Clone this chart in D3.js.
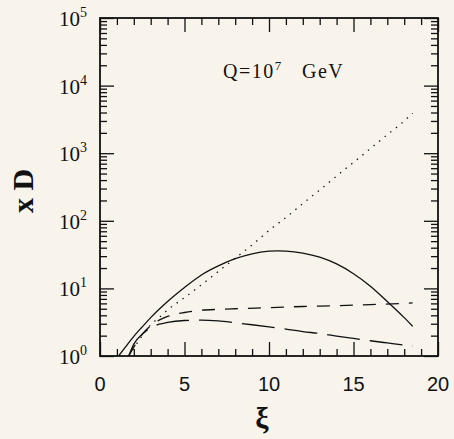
<!DOCTYPE html>
<html>
<head>
<meta charset="utf-8">
<script src="https://cdn.jsdelivr.net/npm/d3@7"></script>
<style>
  html, body { margin: 0; padding: 0; background: #f8f4ec; }
  svg { display: block; }
  .serif { font-family: "Liberation Serif", "DejaVu Serif", serif; fill: #111; }
  .sans { font-family: "Liberation Sans", Arial, sans-serif; fill: #111; }
  .axis path { display: none; }
  .axis line { stroke: #111; stroke-width: 1.3; }
</style>
</head>
<body>
<script>
// Fragmentation function xD against xi at Q = 10^7 GeV
var xiTicksMajor = [0, 5, 10, 15, 20]
var decades = [0, 1, 2, 3, 4, 5]

// full result (solid)
var xiSolid = [1.1, 1.5, 2, 2.5, 3, 4, 5, 6, 7, 8, 9, 10, 10.5, 11, 12, 13, 14, 15, 16, 17, 18, 18.5]
var valSolid = [1.0, 1.35, 1.95, 2.7, 3.7, 6.4, 10.3, 15.8, 21.5, 27.5, 32.5, 35.5, 36, 35.7, 33.3, 29, 23, 16.5, 10.8, 6.4, 3.7, 2.75]

// dotted
var xiDotted = [1.7, 2, 2.5, 3, 3.5, 4, 5, 6, 7, 8, 9, 10, 11, 12, 13, 14, 15, 16, 17, 18, 18.5]
var valDotted = [1.0, 1.3, 2.0, 2.9, 3.7, 4.8, 7.3, 11.3, 17.8, 28, 44, 72, 112, 180, 285, 460, 730, 1170, 1880, 3000, 3950]

// short dashes
var xiShort = [1.7, 2, 2.5, 3, 3.5, 4, 5, 6, 7, 8, 10, 12, 14, 16, 18, 18.5]
var valShort = [1.0, 1.35, 2.1, 2.8, 3.4, 3.85, 4.4, 4.75, 4.9, 5.0, 5.2, 5.4, 5.55, 5.75, 6.0, 6.1]

// long dashes
var xiLong = [1.7, 2, 2.5, 3, 3.5, 4, 5, 6, 7, 8, 9, 10, 11, 12, 13, 14, 15, 16, 17, 18, 18.5]
var valLong = [1.0, 1.5, 2.1, 2.6, 2.95, 3.15, 3.35, 3.4, 3.3, 3.1, 2.9, 2.7, 2.5, 2.3, 2.15, 1.97, 1.82, 1.68, 1.56, 1.45, 1.4]

var W = 454, H = 439
var mLeft = 100, mRight = 438, mTop = 18, mBottom = 356

var svg = d3.select("body").append("svg")
  .attr("width", W)
  .attr("height", H)

var x = d3.scaleLinear().domain([0, 20]).range([mLeft, mRight])
var y = d3.scaleLog().domain([1, 1e5]).range([mBottom, mTop])

var minorX = d3.range(0, 21).filter(function (v) { return v % 5 != 0 })
var minorY = []
decades.slice(0, -1).forEach(function (d) {
  for (var k = 2; k <= 9; k++) minorY.push(k * Math.pow(10, d))
})
var majorY = decades.map(function (d) { return Math.pow(10, d) })

// ticks point inward on all four sides
function tickAxis(axis, offset, vals, size) {
  svg.append("g")
    .attr("class", "axis")
    .attr("transform", offset)
    .call(axis.tickValues(vals).tickSize(-size).tickFormat(""))
}
tickAxis(d3.axisBottom(x), "translate(0," + mBottom + ")", xiTicksMajor, 14)
tickAxis(d3.axisBottom(x), "translate(0," + mBottom + ")", minorX, 7)
tickAxis(d3.axisTop(x), "translate(0," + mTop + ")", xiTicksMajor, 14)
tickAxis(d3.axisTop(x), "translate(0," + mTop + ")", minorX, 7)
tickAxis(d3.axisLeft(y), "translate(" + mLeft + ",0)", majorY, 14)
tickAxis(d3.axisLeft(y), "translate(" + mLeft + ",0)", minorY, 7)
tickAxis(d3.axisRight(y), "translate(" + mRight + ",0)", majorY, 14)
tickAxis(d3.axisRight(y), "translate(" + mRight + ",0)", minorY, 7)

svg.append("rect")
  .attr("x", mLeft).attr("y", mTop)
  .attr("width", mRight - mLeft).attr("height", mBottom - mTop)
  .attr("fill", "none")
  .attr("stroke", "#111")
  .attr("stroke-width", 1.8)

// x tick labels
svg.selectAll("text.xlab")
  .data(xiTicksMajor)
  .enter().append("text")
  .attr("class", "xlab sans")
  .attr("x", function (d) { return x(d) })
  .attr("y", mBottom + 35)
  .attr("text-anchor", "middle")
  .style("font-size", "20px")
  .text(function (d) { return d })

// y tick labels, 10 with a raised exponent
var ylab = svg.selectAll("text.ylab")
  .data(decades)
  .enter().append("text")
  .attr("class", "ylab serif")
  .attr("x", mLeft - 13)
  .attr("y", function (d) { return y(Math.pow(10, d)) + 8 })
  .attr("text-anchor", "end")
  .style("font-size", "21px")
ylab.append("tspan").text("10")
ylab.append("tspan")
  .attr("dy", -9)
  .style("font-size", "14px")
  .text(function (d) { return d })

svg.append("text")
  .attr("class", "serif")
  .attr("transform", "translate(33,191) rotate(-90)")
  .attr("text-anchor", "middle")
  .style("font-size", "30px")
  .style("font-weight", "bold")
  .text("x D")

svg.append("text")
  .attr("class", "serif")
  .attr("x", 262)
  .attr("y", 428)
  .attr("text-anchor", "middle")
  .style("font-size", "30px")
  .style("font-weight", "bold")
  .text("ξ")

var note = svg.append("text")
  .attr("class", "serif")
  .attr("y", 78)
  .style("font-size", "20px")
  .style("letter-spacing", "1.5px")
note.append("tspan").attr("x", 223).text("Q=10")
note.append("tspan").attr("dy", -8).style("font-size", "13px").text("7")
note.append("tspan").attr("x", 302).attr("dy", 8).text("GeV")

svg.append("clipPath").attr("id", "plot")
  .append("rect")
  .attr("x", mLeft).attr("y", mTop)
  .attr("width", mRight - mLeft).attr("height", mBottom - mTop)

var line = d3.line()
  .x(function (d) { return x(d[0]) })
  .y(function (d) { return y(d[1]) })
  .curve(d3.curveMonotoneX)

var curves = [
  { xi: xiSolid, val: valSolid, dash: null },
  { xi: xiDotted, val: valDotted, dash: "1.4,5.8" },
  { xi: xiShort, val: valShort, dash: "13,10" },
  { xi: xiLong, val: valLong, dash: "33,10" }
]

svg.append("g")
  .attr("clip-path", "url(#plot)")
  .selectAll("path")
  .data(curves)
  .enter().append("path")
  .attr("d", function (c) { return line(d3.zip(c.xi, c.val)) })
  .attr("fill", "none")
  .attr("stroke", "#111")
  .attr("stroke-width", 1.3)
  .attr("stroke-dasharray", function (c) { return c.dash })
</script>
</body>
</html>
